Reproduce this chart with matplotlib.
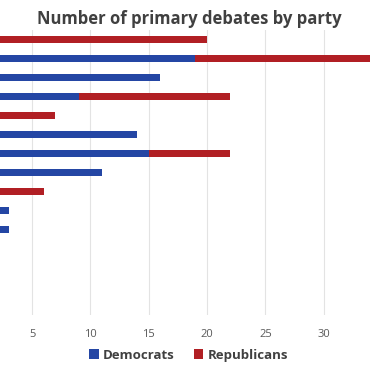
import matplotlib.pyplot as plt
import numpy as np

# categories top -> bottom (labels fall outside the visible crop)
rows = ["r1", "r2", "r3", "r4", "r5", "r6", "r7", "r8", "r9", "r10", "r11", "r12", "r13", "r14", "r15"]
democrats = [0, 19, 16, 9, 0, 14, 15, 11, 0, 3, 3, 0, 0, 0, 0]
republicans = [20, 15, 0, 13, 7, 0, 7, 0, 6, 0, 0, 0, 0, 0, 0]
x_ticks = [5, 10, 15, 20, 25, 30]

blue = "#2446a4"
red = "#b11f24"

plt.rcParams['font.family'] = ['Open Sans', 'DejaVu Sans']

fig = plt.figure(figsize=(3.7, 3.7), dpi=100)
ax = fig.add_axes([-0.0711, 0.1486, 1.1038, 0.7703])

y = np.arange(len(rows))
ax.barh(y, democrats, height=0.38, color=blue, label="Democrats", zorder=3)
ax.barh(y, republicans, left=democrats, height=0.38, color=red, label="Republicans", zorder=3)

ax.set_xlim(0, 35)
ax.set_ylim(len(rows) - 0.5, -0.5)
ax.set_xticks(x_ticks)
ax.set_yticks([])
ax.tick_params(axis='x', length=0, labelsize=8, labelcolor="#595959", pad=10)
ax.grid(axis='x', color="#e3e3e3", linewidth=0.8, zorder=0)
for s in ax.spines.values():
    s.set_visible(False)

fig.text(0.513, 0.95, "Number of primary debates by party", ha='center', va='center',
         fontsize=12, fontweight='bold', color="#404040")

fig.legend(loc='center', bbox_to_anchor=(0.51, 0.04), ncol=2, frameon=False,
           handlelength=0.7, handleheight=0.7, handletextpad=0.3,
           columnspacing=1.5, labelcolor="#404040", prop={'weight': 'bold', 'size': 9.5})

fig.savefig("out.png", dpi=100)
